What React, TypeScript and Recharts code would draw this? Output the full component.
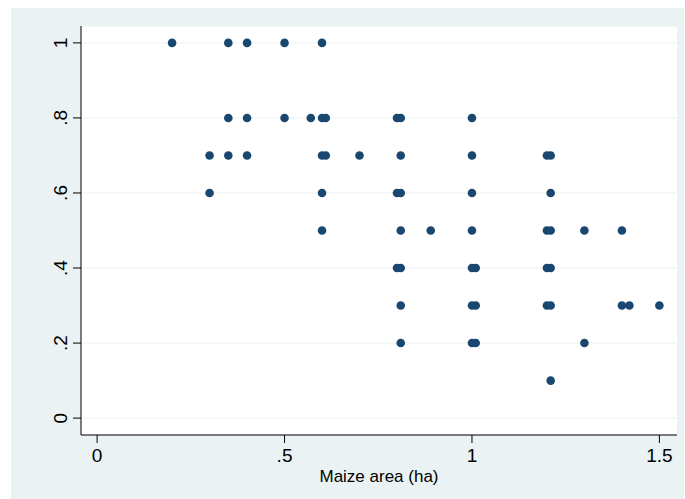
import { ScatterChart, Scatter, XAxis, YAxis, CartesianGrid } from "recharts"

// maize area (ha) observed at each share level
const share100 = [0.2, 0.35, 0.4, 0.5, 0.6]
const share80 = [0.35, 0.4, 0.5, 0.57, 0.6, 0.61, 0.8, 0.81, 1.0]
const share70 = [0.3, 0.35, 0.4, 0.6, 0.61, 0.7, 0.81, 1.0, 1.2, 1.21]
const share60 = [0.3, 0.6, 0.8, 0.81, 1.0, 1.21]
const share50 = [0.6, 0.81, 0.89, 1.0, 1.2, 1.21, 1.3, 1.4]
const share40 = [0.8, 0.81, 1.0, 1.01, 1.2, 1.21]
const share30 = [0.81, 1.0, 1.01, 1.2, 1.21, 1.4, 1.42, 1.5]
const share20 = [0.81, 1.0, 1.01, 1.3]
const share10 = [1.21]

const xTicks = [0, 0.5, 1, 1.5]
const yTicks = [0, 0.2, 0.4, 0.6, 0.8, 1]

const levels: [number, number[]][] = [
  [1, share100], [0.8, share80], [0.7, share70], [0.6, share60], [0.5, share50],
  [0.4, share40], [0.3, share30], [0.2, share20], [0.1, share10],
]
const data = levels.flatMap(([y, xs]) => xs.map((x) => ({ area: x, share: y })))

const fmt = (v: number) => (v === 0 || v === 1 ? String(v) : String(v).replace(/^0/, ""))

const font = "'Liberation Sans', Arial, sans-serif"

const YTick = (props: any) => {
  const { x, y, payload } = props
  return (
    <text transform={`translate(${x - 6},${y}) rotate(-90)`} textAnchor="middle" fontSize={19} fill="#000" fontFamily={font}>
      {fmt(payload.value)}
    </text>
  )
}

export default function App() {
  return (
    <div style={{ position: "absolute", left: 0, top: 0, width: 685, height: 499, background: "#fff" }}>
      <div style={{ position: "absolute", left: 11, top: 8, width: 673, height: 491, background: "#EAF2F3" }} />
      <div style={{ position: "absolute", left: 0, top: 0 }}>
        <ScatterChart width={685} height={499} margin={{ top: 26, right: 8, bottom: 0, left: 0 }}>
          <CartesianGrid vertical={false} stroke="#EAF2F3" fill="#fff" fillOpacity={1} />
          <XAxis
            type="number"
            dataKey="area"
            domain={[-0.043, 1.547]}
            ticks={xTicks}
            tickFormatter={fmt}
            allowDataOverflow
            height={64}
            tickSize={8}
            tickMargin={6}
            stroke="#000"
            tick={{ fill: "#000", fontSize: 19, fontFamily: font }}
            label={{ value: "Maize area (ha)", position: "insideBottom", offset: 17, fill: "#000", fontSize: 17, fontFamily: font }}
          />
          <YAxis
            type="number"
            dataKey="share"
            domain={[-0.045, 1.045]}
            ticks={yTicks}
            allowDataOverflow
            width={81}
            tickSize={8}
            tickMargin={0}
            stroke="#000"
            tick={<YTick />}
          />
          <Scatter
            data={data}
            isAnimationActive={false}
            shape={(p: any) => <circle cx={p.cx} cy={p.cy} r={4.3} fill="#1a476f" />}
          />
        </ScatterChart>
      </div>
    </div>
  )
}
